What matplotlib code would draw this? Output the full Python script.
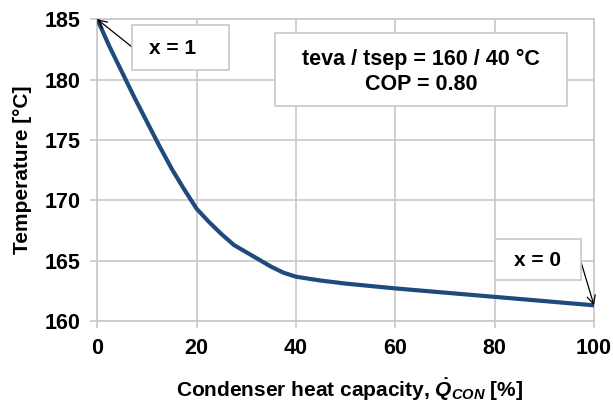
import matplotlib
matplotlib.use("Agg")
import matplotlib.pyplot as plt
from matplotlib.patches import Rectangle

plt.rcParams['font.family'] = ['Liberation Sans', 'DejaVu Sans']
plt.rcParams['font.weight'] = 'bold'
plt.rcParams['mathtext.fontset'] = 'custom'
plt.rcParams['mathtext.it'] = 'Liberation Sans:italic:bold'
plt.rcParams['mathtext.rm'] = 'Liberation Sans:bold'
plt.rcParams['mathtext.bf'] = 'Liberation Sans:bold'

# Data
capacity = [0, 2.5, 5, 7.5, 10, 12.5, 15, 17.5, 20, 22.5, 25, 27.5, 30, 32.5,
            35, 37.5, 40, 45, 50, 60, 70, 80, 90, 100]
temperature = [185, 182.7, 180.6, 178.5, 176.5, 174.5, 172.6, 170.9, 169.3, 168.2,
               167.2, 166.3, 165.7, 165.1, 164.5, 164.0, 163.67, 163.35, 163.1,
               162.7, 162.35, 162.0, 161.65, 161.3]
xticks = [0, 20, 40, 60, 80, 100]
yticks = [160, 165, 170, 175, 180, 185]

W, H = 613, 403
fig = plt.figure(figsize=(W / 100, H / 100), dpi=100)
ax = fig.add_axes([97.3 / W, 1 - 321 / H, (594 - 97.3) / W, (321 - 19.3) / H])

ax.plot(capacity, temperature, color='#1F4A7E', lw=3, solid_capstyle='round',
        solid_joinstyle='round', zorder=3)

ax.set_xlim(0, 100)
ax.set_ylim(160, 185)
ax.set_xticks(xticks)
ax.set_yticks(yticks)
ax.grid(True, color='#C8C8C8', lw=1.2)
for s in ax.spines.values():
    s.set_color('#C8C8C8')
    s.set_linewidth(1.2)
ax.tick_params(axis='both', colors='#C8C8C8', labelcolor='black', length=5, width=1.2,
               labelsize=15.5)
ax.tick_params(axis='y', pad=7)
ax.tick_params(axis='x', pad=7)
for lbl in ax.get_xticklabels() + ax.get_yticklabels():
    lbl.set_fontweight('bold')

ax.set_ylabel('Temperature [°C]', fontsize=15, fontweight='bold')
ax.set_xlabel(r'Condenser heat capacity, $\dot{Q}_{CON}$ [%]', fontsize=15,
              fontweight='bold')
ax.yaxis.set_label_coords((32 - 97.3) / 496.7, 0.5)
ax.xaxis.set_label_coords((350 - 97.3) / 496.7, (321 - 376) / 301.7)


def px(x, y):
    return (x / W, 1 - y / H)


# x = 1 annotation
fig.add_artist(Rectangle(px(132, 70), 97 / W, 45 / H, transform=fig.transFigure,
                         fc='white', ec='#C8C8C8', lw=1.2, zorder=5))
fig.text(*px(173, 48), 'x = 1', ha='center', va='center', fontsize=15,
         fontweight='bold', zorder=6)
ax.annotate('', xy=(capacity[0], temperature[0]), xycoords='data',
            xytext=px(132, 47), textcoords='figure fraction',
            arrowprops=dict(arrowstyle='->,head_length=0.6,head_width=0.3', color='black',
                            lw=0.9, shrinkA=0, shrinkB=0), zorder=6, annotation_clip=False)

# Info box
fig.add_artist(Rectangle(px(275, 106), 292 / W, 73 / H, transform=fig.transFigure,
                         fc='white', ec='#C8C8C8', lw=1.2, zorder=5))
fig.text(*px(421, 59), 'teva / tsep = 160 / 40 °C', ha='center', va='center',
         fontsize=15.5, fontweight='bold', zorder=6)
fig.text(*px(421, 84), 'COP = 0.80', ha='center', va='center',
         fontsize=15.5, fontweight='bold', zorder=6)

# x = 0 annotation
fig.add_artist(Rectangle(px(495, 280), 86 / W, 41 / H, transform=fig.transFigure,
                         fc='white', ec='#C8C8C8', lw=1.2, zorder=5))
fig.text(*px(538, 260), 'x = 0', ha='center', va='center', fontsize=15,
         fontweight='bold', zorder=6)
ax.annotate('', xy=(capacity[-1], temperature[-1]), xycoords='data',
            xytext=px(581, 262), textcoords='figure fraction',
            arrowprops=dict(arrowstyle='->,head_length=0.6,head_width=0.3', color='black',
                            lw=0.9, shrinkA=0, shrinkB=0), zorder=6, annotation_clip=False)

fig.savefig('out.png', dpi=100)
